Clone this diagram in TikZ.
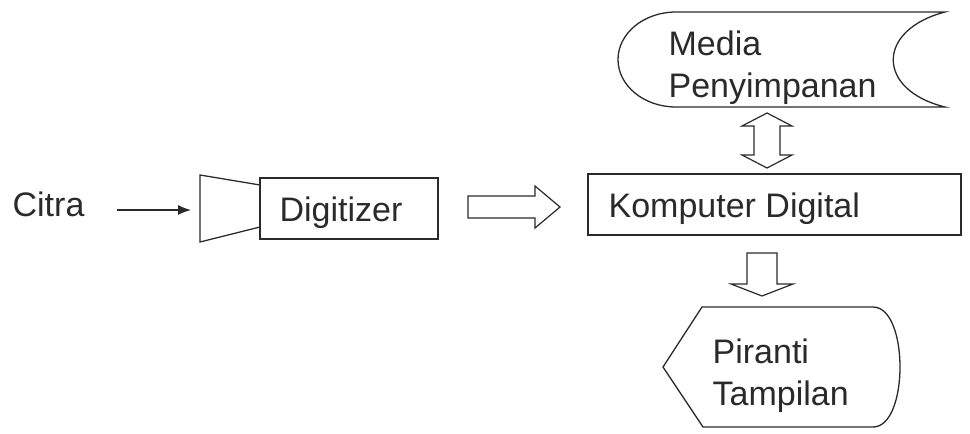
\documentclass[tikz,border=0pt]{standalone}
\usepackage{fontspec}
\setmainfont{Liberation Sans}
\usetikzlibrary{arrows.meta}
\definecolor{ink}{HTML}{2A2A2A}
\begin{document}
\begin{tikzpicture}[x=1pt,y=-1pt,line width=1.3pt,
  lbl/.style={font=\fontsize{34}{41}\selectfont,text=ink,inner sep=0pt,anchor=base west},
  shp/.style={draw=ink,line width=1.3pt,line join=miter},
  hollow/.style={draw=ink,fill=white,line width=1.2pt,line join=miter}]
\useasboundingbox (0,0) rectangle (970,434);
% Citra and input arrow
\node[lbl] (citra) at (12,216) {Citra};
\coordinate (inStart) at (117,210);
\coordinate (hornIn) at (191,210);
\draw[draw=ink,line width=1.2pt,-{Latex[length=13pt,width=10pt]}] (inStart) -- (hornIn);
% horn + digitizer
\draw[shp] (200,175) -- (260,185) -- (260,227) -- (200,242) -- cycle;
\draw[shp] (260,178) rectangle (438,239);
\node[lbl] (digitizer) at (279,221) {Digitizer};
% hollow right arrow
\draw[hollow] (468,196) -- (535,196) -- (535,186) -- (560,207) -- (535,228) -- (535,218) -- (468,218) -- cycle;
% Komputer Digital
\draw[shp] (588,174) rectangle (961,235);
\node[lbl] (komputer) at (608,217) {Komputer Digital};
% Media Penyimpanan (stored data)
\draw[shp] (676,12) -- (945,12) .. controls (876,30) and (876,90) .. (945,107)
  -- (676,107) arc[start angle=270,end angle=90,x radius=58pt,y radius=47.5pt] -- cycle;
\node[lbl] (media) at (668,55) {Media};
\node[lbl] (penyimpanan) at (668,97) {Penyimpanan};
% double hollow arrow
\draw[hollow] (767,113) -- (792,126) -- (780,126) -- (780,155) -- (792,155) -- (767,168)
  -- (742,155) -- (754,155) -- (754,126) -- (742,126) -- cycle;
% down hollow arrow
\draw[hollow] (747,253) -- (777,253) -- (777,284) -- (793,284) -- (762,296) -- (731,284) -- (747,284) -- cycle;
% Piranti Tampilan (display)
\draw[shp] (702,307) -- (873,307) .. controls (909,307) and (909,427) .. (873,427) -- (703,427) -- (663,367) -- cycle;
\node[lbl] (piranti) at (712,363) {Piranti};
\node[lbl] (tampilan) at (712,405) {Tampilan};
\end{tikzpicture}
\end{document}
